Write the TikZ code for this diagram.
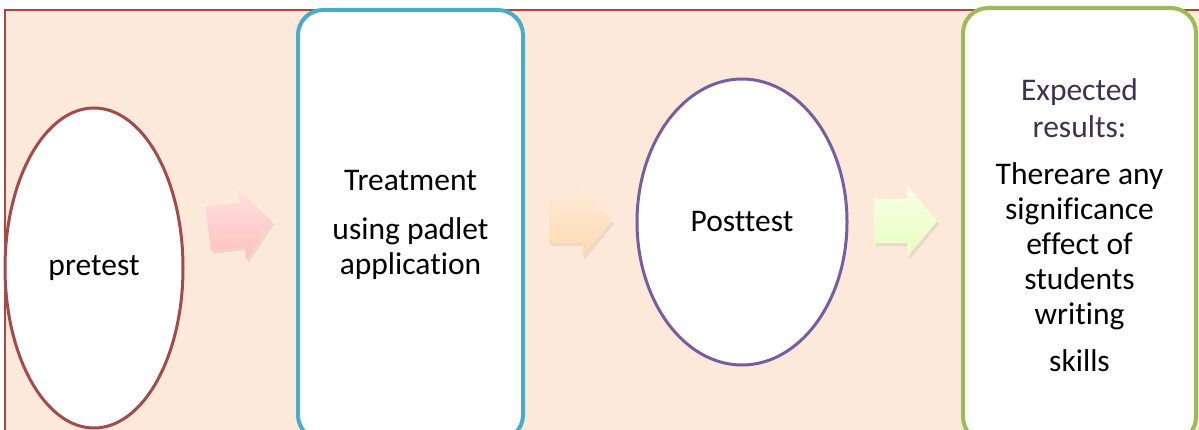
\documentclass[tikz,border=0pt]{standalone}
\usepackage{fontspec}
\setmainfont{Carlito}[Ligatures=NoCommon]
\usetikzlibrary{shapes,positioning,shadows}
\definecolor{peach}{HTML}{FDE9D9}
\definecolor{framered}{HTML}{B0453F}
\definecolor{ovalred}{HTML}{A24B4D}
\definecolor{panelblue}{HTML}{4BACC6}
\definecolor{ovalpurple}{HTML}{7460A0}
\definecolor{panelgreen}{HTML}{9BBB59}
\definecolor{headpurple}{HTML}{3F3151}

\begin{document}
\begin{tikzpicture}[
    x=1pt, y=1pt,
    every node/.style={font=\fontsize{31.5}{35}\selectfont},
    oval/.style={ellipse, draw, fill=white, line width=3pt, inner sep=0pt},
    panel/.style={rectangle, rounded corners=25pt, draw, fill=white, line width=4pt, align=center, inner sep=0pt},
    blockarrow/.style={single arrow, anchor=west, inner xsep=0pt, inner ysep=22pt, single arrow head extend=13.5pt,
        single arrow tip angle=100, drop shadow={opacity=0.15, shadow xshift=2pt, shadow yshift=-3pt}}
]
\useasboundingbox (0,0) rectangle (1199,429);
\clip (0,0) rectangle (1199,429);

% Background frame
\draw[framered, line width=1.5pt, fill=peach] (5,-10) rectangle (1215,419);

% Pretest
\node[oval, draw=ovalred, minimum width=178pt, minimum height=320pt] (pre) at (94,161) {pretest};

% Treatment
\node[panel, draw=panelblue, minimum width=225pt, minimum height=430pt] (treat) at (410.5,204)
    {Treatment\\[14pt] using padlet\\application};

% Posttest
\node[oval, draw=ovalpurple, minimum width=210pt, minimum height=286pt] (post) at (742,207) {Posttest};

% Expected results
\node[panel, draw=panelgreen, minimum width=233pt, minimum height=434pt] (res) at (1079.5,204)
    {\textcolor{headpurple}{Expected}\\[2pt]\textcolor{headpurple}{results:}\\[12pt]
     Thereare any\\significance\\effect of\\students\\writing\\[12pt]skills};

% Block arrows
\node[blockarrow, minimum height=64pt, rotate=7, top color=red!12, bottom color=red!25] (a1) at (208,200) {};
\node[blockarrow, minimum height=63pt, top color=orange!15, bottom color=orange!30] (a2) at (549,208) {};
\node[blockarrow, minimum height=63pt, top color=green!8!lime!10, bottom color=green!15!lime!25] (a3) at (874,208) {};

\end{tikzpicture}
\end{document}
